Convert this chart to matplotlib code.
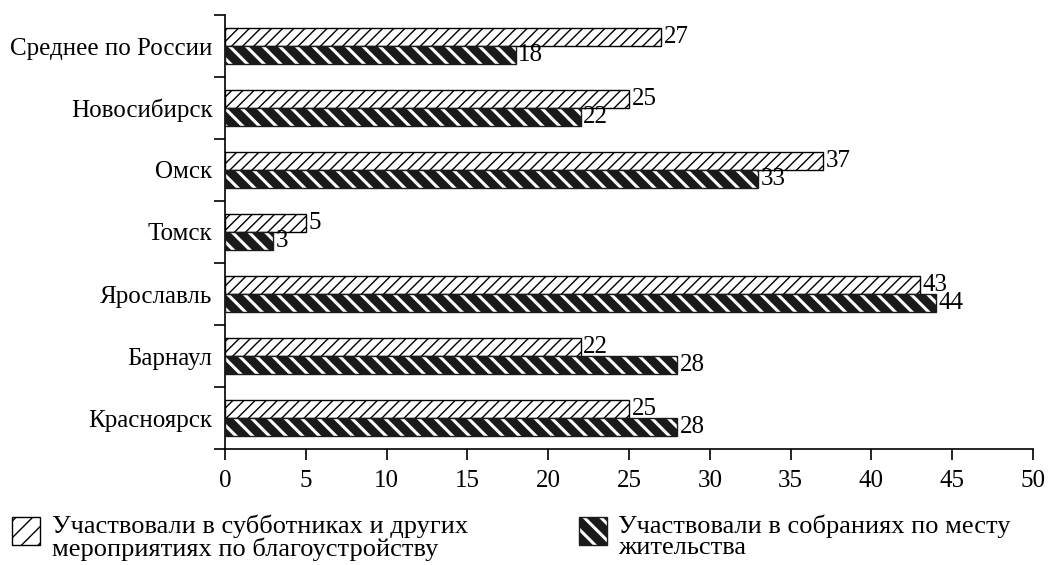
import matplotlib
matplotlib.use("Agg")
import matplotlib.pyplot as plt
import numpy as np
from matplotlib.patches import Rectangle

categories = ["Среднее по России", "Новосибирск", "Омск", "Томск", "Ярославль", "Барнаул", "Красноярск"]
subbotniki = [27, 25, 37, 5, 43, 22, 25]
sobraniya = [18, 22, 33, 3, 44, 28, 28]
legend_labels = ["Участвовали в субботниках и других\nмероприятиях по благоустройству",
                 "Участвовали в собраниях по месту\nжительства"]
xticks = [0, 5, 10, 15, 20, 25, 30, 35, 40, 45, 50]

plt.rcParams['font.family'] = ['Liberation Serif', 'DejaVu Serif']
FS = 18
LFS = 19

fig = plt.figure(figsize=(10.52, 5.65), dpi=100)
ax = fig.add_axes([225/1052, 1-449/565, (1033-225)/1052, (449-15)/565])

n = len(categories)
centers = np.arange(n)[::-1] + 0.5  # top category highest
h = 0.29

with plt.rc_context({'hatch.linewidth': 1.0}):
    ax.barh(centers + h/2, subbotniki, height=h, color='white', edgecolor='black',
            hatch='///', linewidth=1.0, zorder=2)
with plt.rc_context({'hatch.linewidth': 2.2}):
    ax.barh(centers - h/2, sobraniya, height=h, color='#1a1a1a', edgecolor='white',
            hatch='\\\\', linewidth=0, zorder=2)
ax.barh(centers - h/2, sobraniya, height=h, color='none', edgecolor='#1a1a1a',
        linewidth=1.0, zorder=3)

for c, v in zip(centers, subbotniki):
    ax.text(v + 0.15, c + h/2, str(v), va='center', ha='left', fontsize=FS)
for c, v in zip(centers, sobraniya):
    ax.text(v + 0.15, c - h/2, str(v), va='center', ha='left', fontsize=FS)

ax.set_xlim(0, 50)
ax.set_ylim(0, n)
ax.set_xticks(xticks)
ax.set_xticklabels([str(t) for t in xticks], fontsize=FS)
ax.set_yticks(np.arange(n + 1))
ax.set_yticklabels([])
ax.set_yticks(centers, minor=True)
ax.set_yticklabels(categories, minor=True, fontsize=FS)
ax.tick_params(axis='y', which='minor', length=0, pad=9)
ax.tick_params(axis='y', which='major', length=8, width=1.2, direction='out')
ax.tick_params(axis='x', length=8, width=1.2, direction='out', pad=7)
for s in ['top', 'right']:
    ax.spines[s].set_visible(False)
for s in ['left', 'bottom']:
    ax.spines[s].set_linewidth(1.2)

# Legend
W, H = 1052, 565
def fx(x): return x / W
def fy(y): return 1 - y / H

with plt.rc_context({'hatch.linewidth': 1.0}):
    r1 = Rectangle((fx(12), fy(545)), fx(28), 28/H, transform=fig.transFigure,
                   facecolor='white', edgecolor='black', hatch='//', linewidth=1.0)
    fig.patches.append(r1)
with plt.rc_context({'hatch.linewidth': 2.2}):
    r2 = Rectangle((fx(579), fy(545)), fx(28), 28/H, transform=fig.transFigure,
                   facecolor='#1a1a1a', edgecolor='white', hatch='\\\\', linewidth=0)
    fig.patches.append(r2)
r3 = Rectangle((fx(579), fy(545)), fx(28), 28/H, transform=fig.transFigure,
               facecolor='none', edgecolor='#1a1a1a', linewidth=1.0)
fig.patches.append(r3)

fig.text(fx(52), fy(514), legend_labels[0], ha='left', va='top', fontsize=LFS, linespacing=0.98)
fig.text(fx(618), fy(514), legend_labels[1], ha='left', va='top', fontsize=LFS, linespacing=0.98)

fig.savefig("out.png", dpi=100)
